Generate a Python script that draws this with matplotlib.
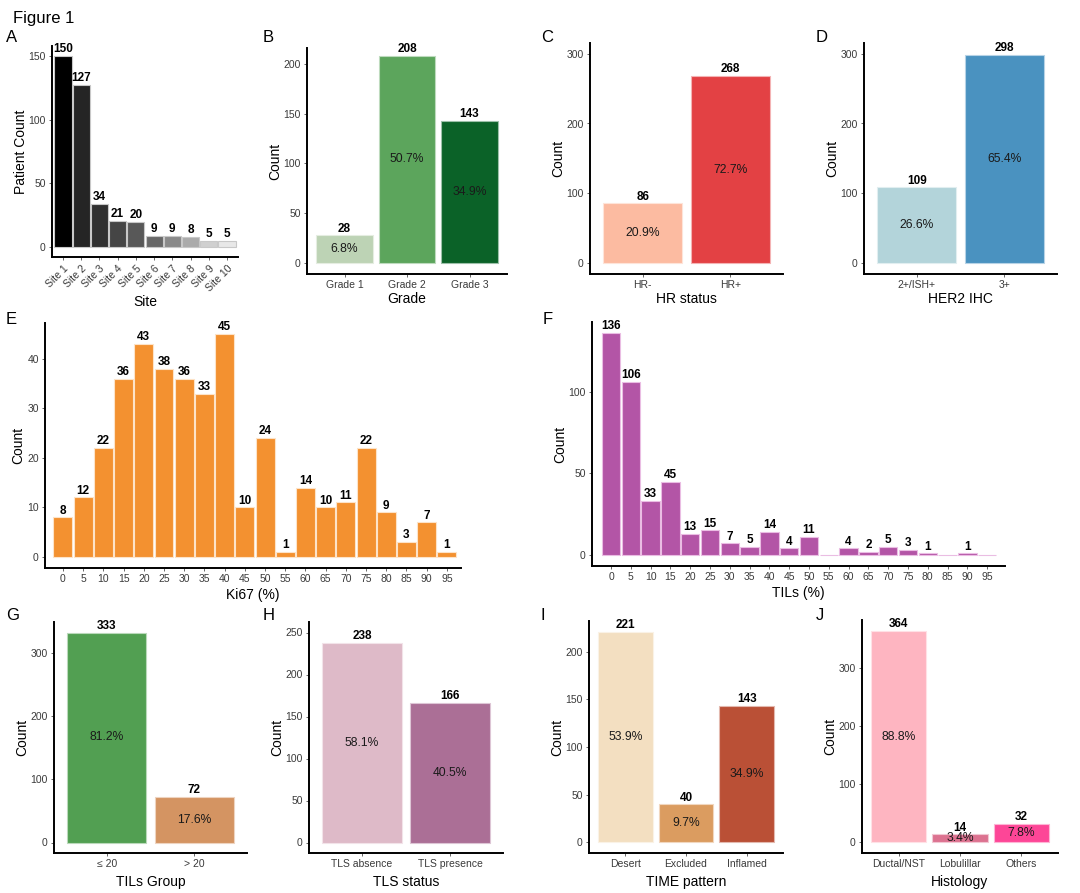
import matplotlib
matplotlib.use("Agg")
import matplotlib.pyplot as plt
from matplotlib.colors import to_rgb

plt.rcParams['font.family'] = ['Liberation Sans', 'DejaVu Sans']

W, H = 1080, 893

# ---- data ----
site_labels = [f"Site {i}" for i in range(1, 11)]
site_counts = [150, 127, 34, 21, 20, 9, 9, 8, 5, 5]
site_colors = ['#000000', '#252525', '#303030', '#454545', '#585858',
               '#686868', '#8a8a8a', '#ababab', '#d0d0d0', '#e8e8e8']

grade_labels = ["Grade 1", "Grade 2", "Grade 3"]
grade_counts = [28, 208, 143]
grade_pct = [6.8, 50.7, 34.9]

hr_labels = ["HR-", "HR+"]
hr_counts = [86, 268]
hr_pct = [20.9, 72.7]

her2_labels = ["2+/ISH+", "3+"]
her2_counts = [109, 298]
her2_pct = [26.6, 65.4]

bins = [str(b) for b in range(0, 100, 5)]
ki67_counts = [8, 12, 22, 36, 43, 38, 36, 33, 45, 10, 24, 1, 14, 10, 11, 22, 9, 3, 7, 1]
tils_counts = [136, 106, 33, 45, 13, 15, 7, 5, 14, 4, 11, 0, 4, 2, 5, 3, 1, 0, 1, 0]

tilsgrp_labels = ["\u2264 20", "> 20"]
tilsgrp_counts = [333, 72]
tilsgrp_pct = [81.2, 17.6]

tls_labels = ["TLS absence", "TLS presence"]
tls_counts = [238, 166]
tls_pct = [58.1, 40.5]

time_labels = ["Desert", "Excluded", "Inflamed"]
time_counts = [221, 40, 143]
time_pct = [53.9, 9.7, 34.9]

hist_labels = ["Ductal/NST", "Lobulillar", "Others"]
hist_counts = [364, 14, 32]
hist_pct = [88.8, 3.4, 7.8]


def lighten(c, f=0.5):
    r, g, b = to_rgb(c)
    return (r + (1 - r) * f, g + (1 - g) * f, b + (1 - b) * f)


def make_ax(fig, l, t, r, b):
    ax = fig.add_axes([l / W, 1 - b / H, (r - l) / W, (b - t) / H])
    for s in ['top', 'right']:
        ax.spines[s].set_visible(False)
    for s in ['left', 'bottom']:
        ax.spines[s].set_linewidth(1.4)
        ax.spines[s].set_color('black')
    ax.tick_params(axis='both', length=2.5, width=0.6, color='#4d4d4d',
                   labelsize=7.5, labelcolor='#3a3a3a', pad=2)
    return ax


def bar_panel(ax, labels, counts, colors, pct=None, ylim=None, yticks=None,
              width=0.9, xlim=None, edge=None, label_zero=True, cnt_size=8.5):
    x = list(range(len(counts)))
    edges = [edge if edge else lighten(c, 0.6) for c in colors]
    ax.bar(x, counts, width=width, color=colors, edgecolor=edges, linewidth=0.8)
    for xi, c in zip(x, counts):
        if c == 0 and not label_zero:
            continue
        ax.annotate(str(c), (xi, c), xytext=(0, 0.5), textcoords='offset points',
                    ha='center', va='bottom', fontsize=cnt_size, fontweight='bold')
    if pct is not None:
        for xi, c, p in zip(x, counts, pct):
            ax.text(xi, c / 2, f"{p}%", ha='center', va='center', fontsize=8.7,
                    color='#1a1a1a')
    ax.set_xticks(x)
    ax.set_xticklabels(labels)
    if xlim is None:
        xlim = (-0.6, len(counts) - 0.4)
    ax.set_xlim(*xlim)
    ax.set_ylim(*ylim)
    ax.set_yticks(yticks)


fig = plt.figure(figsize=(W / 100, H / 100), dpi=100)
fig.text(13 / W, 1 - 18 / H, "Figure 1", fontsize=12, va='center', ha='left')


def panel_letter(letter, x, y):
    fig.text(x / W, 1 - y / H, letter, fontsize=12, va='center', ha='left')


# A
ax = make_ax(fig, 52, 46, 238, 257)
bar_panel(ax, site_labels, site_counts, site_colors, ylim=(-7.5, 157.5),
          yticks=[0, 50, 100, 150], width=0.94, edge='#c8c8c8', cnt_size=8.5)
plt.setp(ax.get_xticklabels(), rotation=45, ha='right', rotation_mode='anchor')
ax.set_xlabel("Site", fontsize=10, labelpad=1)
ax.set_ylabel("Patient Count", fontsize=10, labelpad=0.5)
panel_letter("A", 6, 38)

# B
ax = make_ax(fig, 307, 48, 507, 274)
bar_panel(ax, grade_labels, grade_counts, ['#bdd3b5', '#5ca55c', '#0b6228'],
          pct=grade_pct, ylim=(-10.7, 215.6), yticks=[0, 50, 100, 150, 200])
ax.set_xlabel("Grade", fontsize=10, labelpad=1)
ax.set_ylabel("Count", fontsize=10, labelpad=0.5)
panel_letter("B", 263, 38)

# C
ax = make_ax(fig, 590, 43, 783, 274)
bar_panel(ax, hr_labels, hr_counts, ['#fcbba1', '#e34144'],
          pct=hr_pct, ylim=(-15, 315), yticks=[0, 100, 200, 300])
ax.set_xlabel("HR status", fontsize=10, labelpad=1)
ax.set_ylabel("Count", fontsize=10, labelpad=0.5)
panel_letter("C", 541, 38)

# D
ax = make_ax(fig, 864, 43, 1057, 274)
bar_panel(ax, her2_labels, her2_counts, ['#b3d4da', '#4a92c0'],
          pct=her2_pct, ylim=(-15, 315), yticks=[0, 100, 200, 300])
ax.set_xlabel("HER2 IHC", fontsize=10, labelpad=1)
ax.set_ylabel("Count", fontsize=10, labelpad=0.5)
panel_letter("D", 816, 38)

# E
ax = make_ax(fig, 45, 323, 461, 568)
bar_panel(ax, bins, ki67_counts, ['#f39130'] * len(bins), ylim=(-2.25, 47.25),
          yticks=[0, 10, 20, 30, 40], width=0.94, xlim=(-0.89, 19.7), edge='#fde3c8')
ax.set_xlabel("Ki67 (%)", fontsize=10, labelpad=3)
ax.set_ylabel("Count", fontsize=10, labelpad=1)
panel_letter("E", 6, 319)

# F
ax = make_ax(fig, 592, 322, 1005, 566)
bar_panel(ax, bins, tils_counts, ['#b355a6'] * len(bins), ylim=(-6.8, 142.8),
          yticks=[0, 50, 100], width=0.93, xlim=(-0.96, 19.9), edge='#eabde3',
          label_zero=False)
ax.set_xlabel("TILs (%)", fontsize=10, labelpad=3)
ax.set_ylabel("Count", fontsize=10, labelpad=0.5)
panel_letter("F", 543, 319)

# G
ax = make_ax(fig, 54, 622, 247, 853)
bar_panel(ax, tilsgrp_labels, tilsgrp_counts, ['#529f52', '#d49462'],
          pct=tilsgrp_pct, ylim=(-16.65, 349.65), yticks=[0, 100, 200, 300])
ax.set_xlabel("TILs Group", fontsize=10, labelpad=4)
ax.set_ylabel("Count", fontsize=10, labelpad=0.5)
panel_letter("G", 6, 616)

# H
ax = make_ax(fig, 309, 622, 503, 853)
bar_panel(ax, tls_labels, tls_counts, ['#debac8', '#ab6f96'],
          pct=tls_pct, ylim=(-12.5, 262.5), yticks=[0, 50, 100, 150, 200, 250])
ax.set_xlabel("TLS status", fontsize=10, labelpad=4)
ax.set_ylabel("Count", fontsize=10, labelpad=0.5)
panel_letter("H", 263, 616)

# I
ax = make_ax(fig, 589, 621, 783, 853)
bar_panel(ax, time_labels, time_counts, ['#f3dfc1', '#db9c60', '#ba5036'],
          pct=time_pct, ylim=(-11.05, 232.05), yticks=[0, 50, 100, 150, 200])
ax.set_xlabel("TIME pattern", fontsize=10, labelpad=4)
ax.set_ylabel("Count", fontsize=10, labelpad=0.5)
panel_letter("I", 541, 616)

# J
ax = make_ax(fig, 862, 620, 1058, 853)
bar_panel(ax, hist_labels, hist_counts, ['#feb5c1', '#dc7290', '#fd4697'],
          pct=hist_pct, ylim=(-18.2, 382.2), yticks=[0, 100, 200, 300])
ax.set_xlabel("Histology", fontsize=10, labelpad=4)
ax.set_ylabel("Count", fontsize=10, labelpad=0.5)
panel_letter("J", 816, 616)

fig.savefig("out.png", dpi=100)
